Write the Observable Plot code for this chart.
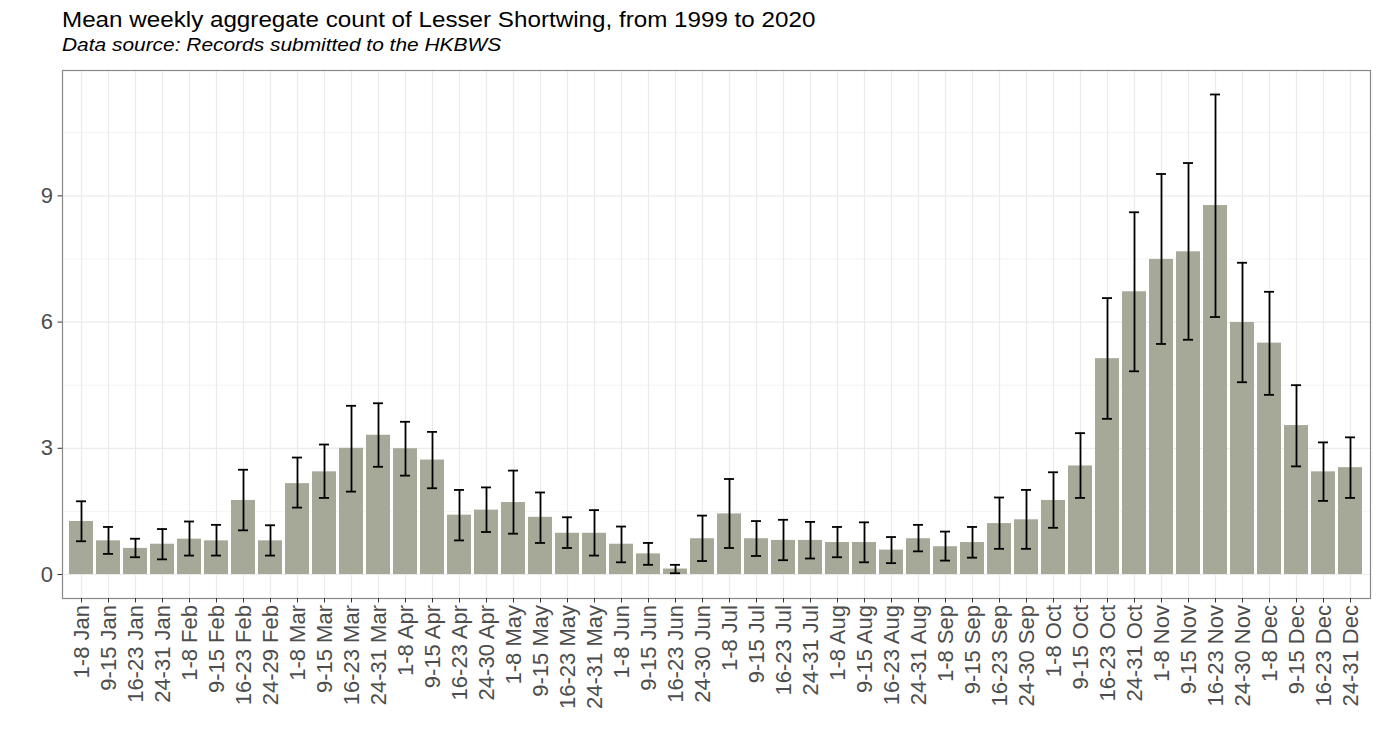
<!DOCTYPE html>
<html>
<head>
<meta charset="utf-8">
<script src="https://cdn.jsdelivr.net/npm/d3@7"></script>
<script src="https://cdn.jsdelivr.net/npm/@observablehq/plot@0.6"></script>
<style>
  html, body { margin: 0; padding: 0; background: #fff; }
  body { width: 1380px; height: 751px; position: relative; overflow: hidden; font-family: "Liberation Sans", Arial, sans-serif; }
  #title { position: absolute; left: 62px; top: 7px; font-size: 22px; line-height: 26px; color: #000; white-space: nowrap; transform: scaleX(1.1); transform-origin: 0 0; }
  #subtitle { position: absolute; left: 62px; top: 34px; font-size: 19px; line-height: 22px; font-style: italic; color: #000; white-space: nowrap; transform: scaleX(1.1); transform-origin: 0 0; }
  #chart { position: absolute; left: 0; top: 62px; }
</style>
</head>
<body>
<div id="title">Mean weekly aggregate count of Lesser Shortwing, from 1999 to 2020</div>
<div id="subtitle">Data source: Records submitted to the HKBWS</div>
<div id="chart"></div>
<script>
const weeks = [
  "1-8 Jan","9-15 Jan","16-23 Jan","24-31 Jan",
  "1-8 Feb","9-15 Feb","16-23 Feb","24-29 Feb",
  "1-8 Mar","9-15 Mar","16-23 Mar","24-31 Mar",
  "1-8 Apr","9-15 Apr","16-23 Apr","24-30 Apr",
  "1-8 May","9-15 May","16-23 May","24-31 May",
  "1-8 Jun","9-15 Jun","16-23 Jun","24-30 Jun",
  "1-8 Jul","9-15 Jul","16-23 Jul","24-31 Jul",
  "1-8 Aug","9-15 Aug","16-23 Aug","24-31 Aug",
  "1-8 Sep","9-15 Sep","16-23 Sep","24-30 Sep",
  "1-8 Oct","9-15 Oct","16-23 Oct","24-31 Oct",
  "1-8 Nov","9-15 Nov","16-23 Nov","24-30 Nov",
  "1-8 Dec","9-15 Dec","16-23 Dec","24-31 Dec"
];
const means = [
  1.26, 0.80, 0.62, 0.72,
  0.84, 0.80, 1.76, 0.80,
  2.16, 2.44, 3.00, 3.31,
  2.99, 2.72, 1.41, 1.53,
  1.71, 1.36, 0.98, 0.98,
  0.72, 0.49, 0.13, 0.85,
  1.44, 0.85, 0.81, 0.81,
  0.76, 0.76, 0.58, 0.85,
  0.66, 0.76, 1.21, 1.30,
  1.76, 2.58, 5.13, 6.72,
  7.49, 7.67, 8.77, 5.99,
  5.50, 3.54, 2.44, 2.54
];
const lower = [
  0.79, 0.49, 0.41, 0.36,
  0.45, 0.45, 1.05, 0.45,
  1.59, 1.82, 1.97, 2.56,
  2.35, 2.05, 0.81, 1.01,
  0.97, 0.75, 0.63, 0.45,
  0.29, 0.23, 0.03, 0.32,
  0.63, 0.44, 0.34, 0.38,
  0.41, 0.29, 0.27, 0.55,
  0.33, 0.40, 0.61, 0.61,
  1.11, 1.82, 3.70, 4.83,
  5.48, 5.58, 6.12, 4.57,
  4.27, 2.57, 1.75, 1.82
];
const upper = [
  1.74, 1.13, 0.85, 1.08,
  1.26, 1.18, 2.49, 1.17,
  2.78, 3.09, 4.01, 4.07,
  3.63, 3.39, 2.01, 2.07,
  2.47, 1.95, 1.36, 1.53,
  1.14, 0.75, 0.23, 1.40,
  2.27, 1.27, 1.30, 1.25,
  1.13, 1.24, 0.89, 1.18,
  1.02, 1.13, 1.83, 2.01,
  2.43, 3.36, 6.57, 8.61,
  9.52, 9.78, 11.41, 7.41,
  6.72, 4.50, 3.14, 3.26
];
const yTicks = [0, 3, 6, 9];
const yMinor = [1.5, 4.5, 7.5, 10.5];

const data = weeks.map((w, i) => ({week: w, mean: means[i], lo: lower[i], hi: upper[i]}));

const font = "Liberation Sans, Arial, sans-serif";
const chart = Plot.plot({
  width: 1380,
  height: 689,
  marginTop: 8,
  marginBottom: 153,
  marginLeft: 62,
  marginRight: 10,
  style: {fontFamily: font, background: "#fff", overflow: "visible"},
  x: {type: "band", domain: weeks, paddingInner: 0.1, paddingOuter: 0.15, align: 0.5, label: null},
  y: {domain: [-0.5705, 11.98], label: null},
  marks: [
    Plot.ruleY(yMinor, {stroke: "#ebebeb", strokeWidth: 0.6}),
    Plot.ruleY(yTicks, {stroke: "#ebebeb", strokeWidth: 1.2}),
    Plot.ruleX(weeks, {x: d => d, stroke: "#ebebeb", strokeWidth: 1.2}),
    Plot.barY(data, {x: "week", y: "mean", fill: "#a6a898"}),
    Plot.ruleX(data, {x: "week", y1: "lo", y2: "hi", stroke: "#000", strokeWidth: 1.8}),
    Plot.tickY(data, {x: "week", y: "hi", stroke: "#000", strokeWidth: 1.8, insetLeft: 7, insetRight: 7}),
    Plot.tickY(data, {x: "week", y: "lo", stroke: "#000", strokeWidth: 1.8, insetLeft: 7, insetRight: 7}),
    Plot.frame({stroke: "#888", strokeWidth: 1.2}),
    Plot.axisY({ticks: yTicks, tickSize: 4.5, tickPadding: 5, fontSize: 22, color: "#4d4d4d", stroke: "#333", label: null}),
    Plot.axisX({tickSize: 4.5, tickPadding: 2, tickRotate: -90, fontSize: 22, color: "#4d4d4d", stroke: "#333", label: null})
  ]
});
document.getElementById("chart").appendChild(chart);
</script>
</body>
</html>
